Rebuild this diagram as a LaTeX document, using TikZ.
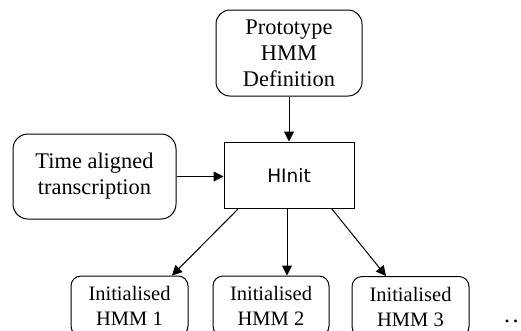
\documentclass[tikz,border=0pt]{standalone}
\usepackage{fontspec}
\setmainfont{Liberation Serif}
\newfontfamily\dejavu{DejaVu Sans}
\usetikzlibrary{arrows.meta,calc}

\begin{document}
\begin{tikzpicture}[x=1pt,y=-1pt,
  line width=1pt,
  bigtext/.style={font=\fontsize{22.4}{26}\selectfont,align=center},
  smalltext/.style={font=\fontsize{20.5}{25}\selectfont,align=center},
  roundbox/.style={draw,rounded corners=14pt,inner sep=0pt},
  hmmbox/.style={draw,rounded corners=10pt,inner sep=0pt,smalltext,
    minimum width=117pt,minimum height=60pt},
  flow/.style={-{Triangle[length=10pt,width=10pt]}}]
  \useasboundingbox (0,0) rectangle (521,330);
  \clip (0,0) rectangle (521,330);

  % input boxes and the tool
  \node[roundbox,bigtext,minimum width=146pt,minimum height=86pt] (proto) at (289,53)
    {Prototype\\HMM\\Definition};
  \node[draw,inner sep=0pt,minimum width=130pt,minimum height=66pt,
    font=\dejavu\fontsize{18.5}{22}\selectfont] (hinit) at (289,175) {HInit};
  \node[roundbox,rounded corners=15pt,bigtext,minimum width=163pt,minimum height=85pt] (trans) at (94.5,176.5)
    {Time aligned\\transcription};

  % output models
  \node[hmmbox] (m1) at (129.5,306) {Initialised\\HMM 1};
  \node[hmmbox,minimum width=116pt] (m2) at (271,306) {Initialised\\HMM 2};
  \node[hmmbox] (m3) at (410.5,306.5) {Initialised\\HMM 3};
  \node[font=\fontsize{24}{26}\selectfont,anchor=base west,inner sep=0pt] (more) at (503.5,322)
    {.\kern2.5pt.};

  % connector end points on the box edges
  \coordinate (d1) at ($(hinit.south west)+(15,0)$);
  \coordinate (d2) at ($(hinit.south)+(-2,0)$);
  \coordinate (d3) at ($(hinit.south east)+(-23,0)$);

  % connectors
  \draw[flow] (proto.south) -- (hinit.north);
  \draw[flow] (trans.east) -- (trans.east -| hinit.west);
  \draw[flow] (d1) -- ($(m1.north)+(42.5,0)$);
  \draw[flow] (d2) -- (d2 |- m2.north);
  \draw[flow] (d3) -- ($(m3.north)+(-24.5,0)$);
\end{tikzpicture}
\end{document}
